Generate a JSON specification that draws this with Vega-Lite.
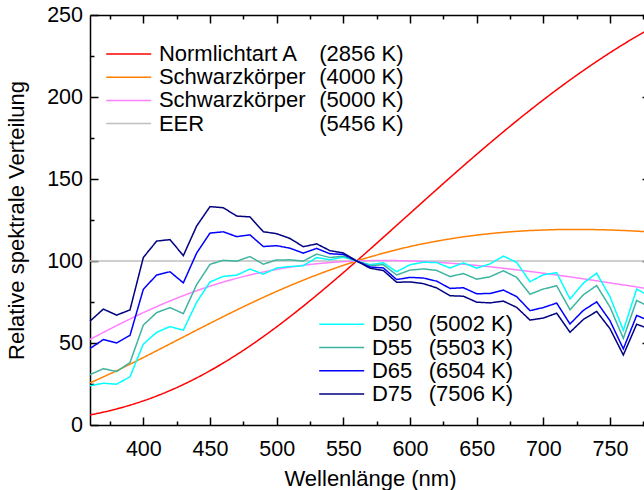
{
"$schema": "https://vega.github.io/schema/vega-lite/v6.json",
"width": 560, "height": 410,
"padding": {"left": 5, "top": 4, "right": 0, "bottom": 0},
"config": {"font": "Liberation Sans", "view": {"stroke": null},
  "axis": {"grid": false, "domainColor": "black", "domainWidth": 1.5, "tickColor": "black", "tickWidth": 1.5, "labelColor": "black", "labelFontSize": 21.5, "titleFontSize": 22, "titleFontWeight": "normal", "titleColor": "black", "labelFlush": false, "labelOverlap": false},
  "legend": {"padding": 0, "labelFontSize": 22, "labelColor": "black"}
},
"datasets": {
"series": [
 {"k":"A","s":"Normlichtart A|(2856 K)","t":"(2856 K)"},
 {"k":"B4","s":"Schwarzkörper|(4000 K)","t":"(4000 K)"},
 {"k":"B5","s":"Schwarzkörper|(5000 K)","t":"(5000 K)"},
 {"k":"E","s":"EER|(5456 K)","t":"(5456 K)"},
 {"k":"D50","s":"D50|(5002 K)","t":"(5002 K)"},
 {"k":"D55","s":"D55|(5503 K)","t":"(5503 K)"},
 {"k":"D65","s":"D65|(6504 K)","t":"(6504 K)"},
 {"k":"D75","s":"D75|(7506 K)","t":"(7506 K)"}
],
"pts": [
{"k":"E","x":360,"y":100},{"k":"E","x":780,"y":100},
{"k":"A","x":360,"y":6.14},{"k":"A","x":370,"y":7.82},{"k":"A","x":380,"y":9.80},{"k":"A","x":390,"y":12.09},{"k":"A","x":400,"y":14.71},{"k":"A","x":410,"y":17.68},{"k":"A","x":420,"y":21.00},{"k":"A","x":430,"y":24.67},{"k":"A","x":440,"y":28.70},{"k":"A","x":450,"y":33.09},{"k":"A","x":460,"y":37.81},{"k":"A","x":470,"y":42.87},{"k":"A","x":480,"y":48.24},{"k":"A","x":490,"y":53.91},{"k":"A","x":500,"y":59.86},{"k":"A","x":510,"y":66.06},{"k":"A","x":520,"y":72.50},{"k":"A","x":530,"y":79.13},{"k":"A","x":540,"y":85.95},{"k":"A","x":550,"y":92.91},{"k":"A","x":560,"y":100.00},{"k":"A","x":570,"y":107.18},{"k":"A","x":580,"y":114.44},{"k":"A","x":590,"y":121.73},{"k":"A","x":600,"y":129.04},{"k":"A","x":610,"y":136.35},{"k":"A","x":620,"y":143.62},{"k":"A","x":630,"y":150.84},{"k":"A","x":640,"y":157.98},{"k":"A","x":650,"y":165.03},{"k":"A","x":660,"y":171.96},{"k":"A","x":670,"y":178.77},{"k":"A","x":680,"y":185.43},{"k":"A","x":690,"y":191.93},{"k":"A","x":700,"y":198.26},{"k":"A","x":710,"y":204.41},{"k":"A","x":720,"y":210.37},{"k":"A","x":730,"y":216.12},{"k":"A","x":740,"y":221.67},{"k":"A","x":750,"y":227.00},{"k":"A","x":760,"y":232.12},{"k":"A","x":770,"y":237.01},{"k":"A","x":780,"y":241.68},
{"k":"B4","x":360,"y":25.65},{"k":"B4","x":380,"y":33.11},{"k":"B4","x":400,"y":41.13},{"k":"B4","x":420,"y":49.46},{"k":"B4","x":440,"y":57.85},{"k":"B4","x":460,"y":66.10},{"k":"B4","x":480,"y":74.02},{"k":"B4","x":500,"y":81.47},{"k":"B4","x":520,"y":88.32},{"k":"B4","x":540,"y":94.52},{"k":"B4","x":560,"y":100},{"k":"B4","x":580,"y":104.76},{"k":"B4","x":600,"y":108.82},{"k":"B4","x":620,"y":112.09},{"k":"B4","x":640,"y":114.72},{"k":"B4","x":660,"y":116.70},{"k":"B4","x":680,"y":118.08},{"k":"B4","x":700,"y":118.90},{"k":"B4","x":720,"y":119.25},{"k":"B4","x":740,"y":119.12},{"k":"B4","x":760,"y":118.60},{"k":"B4","x":780,"y":117.74},
{"k":"B5","x":360,"y":52.15},{"k":"B5","x":380,"y":60.62},{"k":"B5","x":400,"y":68.51},{"k":"B5","x":420,"y":75.64},{"k":"B5","x":440,"y":81.87},{"k":"B5","x":460,"y":87.16},{"k":"B5","x":480,"y":91.49},{"k":"B5","x":500,"y":94.87},{"k":"B5","x":520,"y":97.38},{"k":"B5","x":540,"y":99.06},{"k":"B5","x":560,"y":100},{"k":"B5","x":580,"y":100.30},{"k":"B5","x":600,"y":100.05},{"k":"B5","x":620,"y":99.22},{"k":"B5","x":640,"y":98.02},{"k":"B5","x":660,"y":96.47},{"k":"B5","x":680,"y":94.63},{"k":"B5","x":700,"y":92.56},{"k":"B5","x":720,"y":90.31},{"k":"B5","x":740,"y":87.92},{"k":"B5","x":760,"y":85.43},{"k":"B5","x":780,"y":82.87},
{"k":"D50","x":360,"y":23.94},{"k":"D50","x":370,"y":25.45},{"k":"D50","x":380,"y":24.88},{"k":"D50","x":390,"y":29.40},{"k":"D50","x":400,"y":49.31},{"k":"D50","x":410,"y":56.51},{"k":"D50","x":420,"y":60.03},{"k":"D50","x":430,"y":57.82},{"k":"D50","x":440,"y":74.83},{"k":"D50","x":450,"y":87.25},{"k":"D50","x":460,"y":90.61},{"k":"D50","x":470,"y":91.37},{"k":"D50","x":480,"y":95.11},{"k":"D50","x":490,"y":91.96},{"k":"D50","x":500,"y":95.72},{"k":"D50","x":510,"y":96.61},{"k":"D50","x":520,"y":97.13},{"k":"D50","x":530,"y":102.10},{"k":"D50","x":540,"y":100.76},{"k":"D50","x":550,"y":102.32},{"k":"D50","x":560,"y":100.00},{"k":"D50","x":570,"y":97.74},{"k":"D50","x":580,"y":98.92},{"k":"D50","x":590,"y":93.50},{"k":"D50","x":600,"y":97.69},{"k":"D50","x":610,"y":99.27},{"k":"D50","x":620,"y":99.04},{"k":"D50","x":630,"y":95.72},{"k":"D50","x":640,"y":98.86},{"k":"D50","x":650,"y":95.67},{"k":"D50","x":660,"y":98.19},{"k":"D50","x":670,"y":103.00},{"k":"D50","x":680,"y":99.13},{"k":"D50","x":690,"y":87.38},{"k":"D50","x":700,"y":91.60},{"k":"D50","x":710,"y":92.89},{"k":"D50","x":720,"y":76.85},{"k":"D50","x":730,"y":86.51},{"k":"D50","x":740,"y":92.58},{"k":"D50","x":750,"y":78.23},{"k":"D50","x":760,"y":57.69},{"k":"D50","x":770,"y":82.92},{"k":"D50","x":780,"y":78.27},
{"k":"D55","x":360,"y":30.67},{"k":"D55","x":370,"y":34.36},{"k":"D55","x":380,"y":32.61},{"k":"D55","x":390,"y":38.09},{"k":"D55","x":400,"y":60.94},{"k":"D55","x":410,"y":68.55},{"k":"D55","x":420,"y":71.57},{"k":"D55","x":430,"y":67.91},{"k":"D55","x":440,"y":85.58},{"k":"D55","x":450,"y":97.97},{"k":"D55","x":460,"y":100.44},{"k":"D55","x":470,"y":99.89},{"k":"D55","x":480,"y":102.71},{"k":"D55","x":490,"y":98.06},{"k":"D55","x":500,"y":100.67},{"k":"D55","x":510,"y":100.69},{"k":"D55","x":520,"y":99.98},{"k":"D55","x":530,"y":104.20},{"k":"D55","x":540,"y":102.10},{"k":"D55","x":550,"y":102.97},{"k":"D55","x":560,"y":100.00},{"k":"D55","x":570,"y":97.22},{"k":"D55","x":580,"y":97.75},{"k":"D55","x":590,"y":91.45},{"k":"D55","x":600,"y":94.44},{"k":"D55","x":610,"y":95.17},{"k":"D55","x":620,"y":94.26},{"k":"D55","x":630,"y":90.49},{"k":"D55","x":640,"y":92.39},{"k":"D55","x":650,"y":88.91},{"k":"D55","x":660,"y":90.39},{"k":"D55","x":670,"y":94.03},{"k":"D55","x":680,"y":90.04},{"k":"D55","x":690,"y":79.74},{"k":"D55","x":700,"y":82.92},{"k":"D55","x":710,"y":84.91},{"k":"D55","x":720,"y":70.29},{"k":"D55","x":730,"y":79.37},{"k":"D55","x":740,"y":85.06},{"k":"D55","x":750,"y":71.94},{"k":"D55","x":760,"y":52.83},{"k":"D55","x":770,"y":75.98},{"k":"D55","x":780,"y":71.87},
{"k":"D65","x":360,"y":46.64},{"k":"D65","x":370,"y":52.09},{"k":"D65","x":380,"y":49.98},{"k":"D65","x":390,"y":54.65},{"k":"D65","x":400,"y":82.75},{"k":"D65","x":410,"y":91.49},{"k":"D65","x":420,"y":93.43},{"k":"D65","x":430,"y":86.68},{"k":"D65","x":440,"y":104.87},{"k":"D65","x":450,"y":117.01},{"k":"D65","x":460,"y":117.81},{"k":"D65","x":470,"y":114.86},{"k":"D65","x":480,"y":115.92},{"k":"D65","x":490,"y":108.81},{"k":"D65","x":500,"y":109.35},{"k":"D65","x":510,"y":107.80},{"k":"D65","x":520,"y":104.79},{"k":"D65","x":530,"y":107.69},{"k":"D65","x":540,"y":104.41},{"k":"D65","x":550,"y":104.05},{"k":"D65","x":560,"y":100.00},{"k":"D65","x":570,"y":96.33},{"k":"D65","x":580,"y":95.79},{"k":"D65","x":590,"y":88.69},{"k":"D65","x":600,"y":90.01},{"k":"D65","x":610,"y":89.60},{"k":"D65","x":620,"y":87.70},{"k":"D65","x":630,"y":83.29},{"k":"D65","x":640,"y":83.70},{"k":"D65","x":650,"y":80.03},{"k":"D65","x":660,"y":80.21},{"k":"D65","x":670,"y":82.28},{"k":"D65","x":680,"y":78.28},{"k":"D65","x":690,"y":69.72},{"k":"D65","x":700,"y":71.61},{"k":"D65","x":710,"y":74.35},{"k":"D65","x":720,"y":61.60},{"k":"D65","x":730,"y":69.89},{"k":"D65","x":740,"y":75.09},{"k":"D65","x":750,"y":63.59},{"k":"D65","x":760,"y":46.42},{"k":"D65","x":770,"y":66.81},{"k":"D65","x":780,"y":63.38},
{"k":"D75","x":360,"y":63.32},{"k":"D75","x":370,"y":70.69},{"k":"D75","x":380,"y":66.99},{"k":"D75","x":390,"y":70.18},{"k":"D75","x":400,"y":102.15},{"k":"D75","x":410,"y":112.15},{"k":"D75","x":420,"y":113.04},{"k":"D75","x":430,"y":103.28},{"k":"D75","x":440,"y":121.35},{"k":"D75","x":450,"y":133.15},{"k":"D75","x":460,"y":132.48},{"k":"D75","x":470,"y":127.42},{"k":"D75","x":480,"y":126.88},{"k":"D75","x":490,"y":117.86},{"k":"D75","x":500,"y":116.65},{"k":"D75","x":510,"y":113.75},{"k":"D75","x":520,"y":108.69},{"k":"D75","x":530,"y":110.46},{"k":"D75","x":540,"y":106.30},{"k":"D75","x":550,"y":104.91},{"k":"D75","x":560,"y":100.00},{"k":"D75","x":570,"y":95.61},{"k":"D75","x":580,"y":94.20},{"k":"D75","x":590,"y":87.02},{"k":"D75","x":600,"y":87.27},{"k":"D75","x":610,"y":86.19},{"k":"D75","x":620,"y":83.63},{"k":"D75","x":630,"y":78.81},{"k":"D75","x":640,"y":78.52},{"k":"D75","x":650,"y":74.91},{"k":"D75","x":660,"y":74.45},{"k":"D75","x":670,"y":75.56},{"k":"D75","x":680,"y":71.73},{"k":"D75","x":690,"y":63.97},{"k":"D75","x":700,"y":65.22},{"k":"D75","x":710,"y":68.19},{"k":"D75","x":720,"y":56.54},{"k":"D75","x":730,"y":64.34},{"k":"D75","x":740,"y":69.26},{"k":"D75","x":750,"y":58.72},{"k":"D75","x":760,"y":42.68},{"k":"D75","x":770,"y":61.45},{"k":"D75","x":780,"y":58.41}
]},
"data": {"name": "pts"},
"transform": [{"lookup": "k", "from": {"data": {"name": "series"}, "key": "k", "fields": ["s", "t"]}}],
"layer": [
 {"transform": [{"filter": {"field": "k", "equal": "E"}}],
  "mark": {"type": "line", "opacity": 0},
  "encoding": {
   "x": {"field": "x", "type": "quantitative", "scale": {"domain": [360, 780], "nice": false, "zero": false},
     "axis": {"orient": "top", "title": null, "labels": false, "ticks": false}},
   "y": {"field": "y", "type": "quantitative", "scale": {"domain": [0, 250], "nice": false},
     "axis": {"orient": "right", "title": null, "labels": false, "ticks": false}}
  }},
 {"transform": [{"filter": {"field": "k", "equal": "E"}}],
  "mark": {"type": "line", "opacity": 0},
  "encoding": {
   "x": {"field": "x", "type": "quantitative",
     "axis": {"orient": "top", "title": null, "labels": false, "domain": false, "values": [400,450,500,550,600,650,700,750], "tickSize": 8, "offset": -8}},
   "y": {"field": "y", "type": "quantitative",
     "axis": {"orient": "right", "title": null, "labels": false, "domain": false, "values": [0,50,100,150,200,250], "tickSize": 8, "offset": -8}}
  }},
 {"transform": [{"filter": {"field": "k", "equal": "E"}}],
  "mark": {"type": "line", "opacity": 0},
  "encoding": {
   "x": {"field": "x", "type": "quantitative",
     "axis": {"orient": "top", "title": null, "labels": false, "domain": false, "values": [375,425,475,525,575,625,675,725,775], "tickSize": 4, "offset": -4}},
   "y": {"field": "y", "type": "quantitative",
     "axis": {"orient": "right", "title": null, "labels": false, "domain": false, "values": [25,75,125,175,225], "tickSize": 4, "offset": -4}}
  }},
 {"transform": [{"filter": {"field": "k", "equal": "E"}}],
  "mark": {"type": "line", "opacity": 0},
  "encoding": {
   "x": {"field": "x", "type": "quantitative",
     "axis": {"orient": "bottom", "title": null, "labels": false, "domain": false, "values": [400,450,500,550,600,650,700,750], "tickSize": 8, "offset": -8}},
   "y": {"field": "y", "type": "quantitative",
     "axis": {"orient": "left", "title": null, "labels": false, "domain": false, "values": [0,50,100,150,200,250], "tickSize": 8, "offset": -8}}
  }},
 {"transform": [{"filter": {"field": "k", "equal": "E"}}],
  "mark": {"type": "line", "opacity": 0},
  "encoding": {
   "x": {"field": "x", "type": "quantitative",
     "axis": {"orient": "bottom", "title": null, "labels": false, "domain": false, "values": [375,425,475,525,575,625,675,725,775], "tickSize": 4, "offset": -4}},
   "y": {"field": "y", "type": "quantitative",
     "axis": {"orient": "left", "title": null, "labels": false, "domain": false, "values": [25,75,125,175,225], "tickSize": 4, "offset": -4}}
  }},
 {"transform": [{"filter": {"field": "k", "oneOf": ["A","B4","B5","E"]}}],
  "mark": {"type": "line", "strokeWidth": 1.5, "interpolate": "monotone"},
  "encoding": {
   "x": {"field": "x", "type": "quantitative",
     "axis": {"orient": "bottom", "title": "Wellenlänge (nm)", "values": [400,450,500,550,600,650,700,750], "ticks": false, "labelPadding": 13, "titlePadding": 9.2}},
   "y": {"field": "y", "type": "quantitative",
     "axis": {"orient": "left", "title": "Relative spektrale Verteilung", "values": [0,50,100,150,200,250], "ticks": false, "labelPadding": 7.5, "titlePadding": 18}},
   "color": {"field": "s", "type": "nominal",
     "scale": {"domain": ["Normlichtart A|(2856 K)","Schwarzkörper|(4000 K)","Schwarzkörper|(5000 K)","EER|(5456 K)"], "range": ["#ff0000","#ff8000","#ff80ff","#c0c0c0"]},
     "legend": {"orient": "none", "legendX": 27.7, "legendY": 28, "title": null, "symbolType": "M-2.8125,0H2.8125", "symbolSize": 256, "symbolStrokeWidth": 1.5, "labelOffset": 19.2, "rowPadding": 1.2, "labelExpr": "split(datum.label, '|')[0]"}},
   "strokeDash": {"field": "t", "type": "nominal",
     "scale": {"domain": ["(2856 K)","(4000 K)","(5000 K)","(5456 K)"], "range": [[1,0],[1,0],[1,0],[1,0]]},
     "legend": {"orient": "none", "legendX": 207.2, "legendY": 28, "title": null, "symbolOpacity": 0, "symbolSize": 1, "labelOffset": 0, "rowPadding": 1.2}}
  }},
 {"transform": [{"filter": {"field": "k", "oneOf": ["D50","D55","D65","D75"]}}],
  "mark": {"type": "line", "strokeWidth": 1.5},
  "encoding": {
   "x": {"field": "x", "type": "quantitative", "axis": null},
   "y": {"field": "y", "type": "quantitative", "axis": null},
   "color": {"field": "s", "type": "nominal",
     "scale": {"domain": ["D50|(5002 K)","D55|(5503 K)","D65|(6504 K)","D75|(7506 K)"], "range": ["#00ffff","#3cb4a0","#0000ff","#000080"]},
     "legend": {"orient": "none", "legendX": 240.7, "legendY": 298.3, "title": null, "symbolType": "M-2.8125,0H2.8125", "symbolSize": 256, "symbolStrokeWidth": 1.5, "labelOffset": 19.2, "rowPadding": 1.2, "labelExpr": "split(datum.label, '|')[0]"}},
   "strokeDash": {"field": "t", "type": "nominal",
     "scale": {"domain": ["(5002 K)","(5503 K)","(6504 K)","(7506 K)"], "range": [[1,0],[1,0],[1,0],[1,0]]},
     "legend": {"orient": "none", "legendX": 316.7, "legendY": 298.3, "title": null, "symbolOpacity": 0, "symbolSize": 1, "labelOffset": 0, "rowPadding": 1.2}}
  }}
],
"resolve": {"scale": {"color": "independent", "strokeDash": "independent"}, "axis": {"x": "independent", "y": "independent"}}
}
